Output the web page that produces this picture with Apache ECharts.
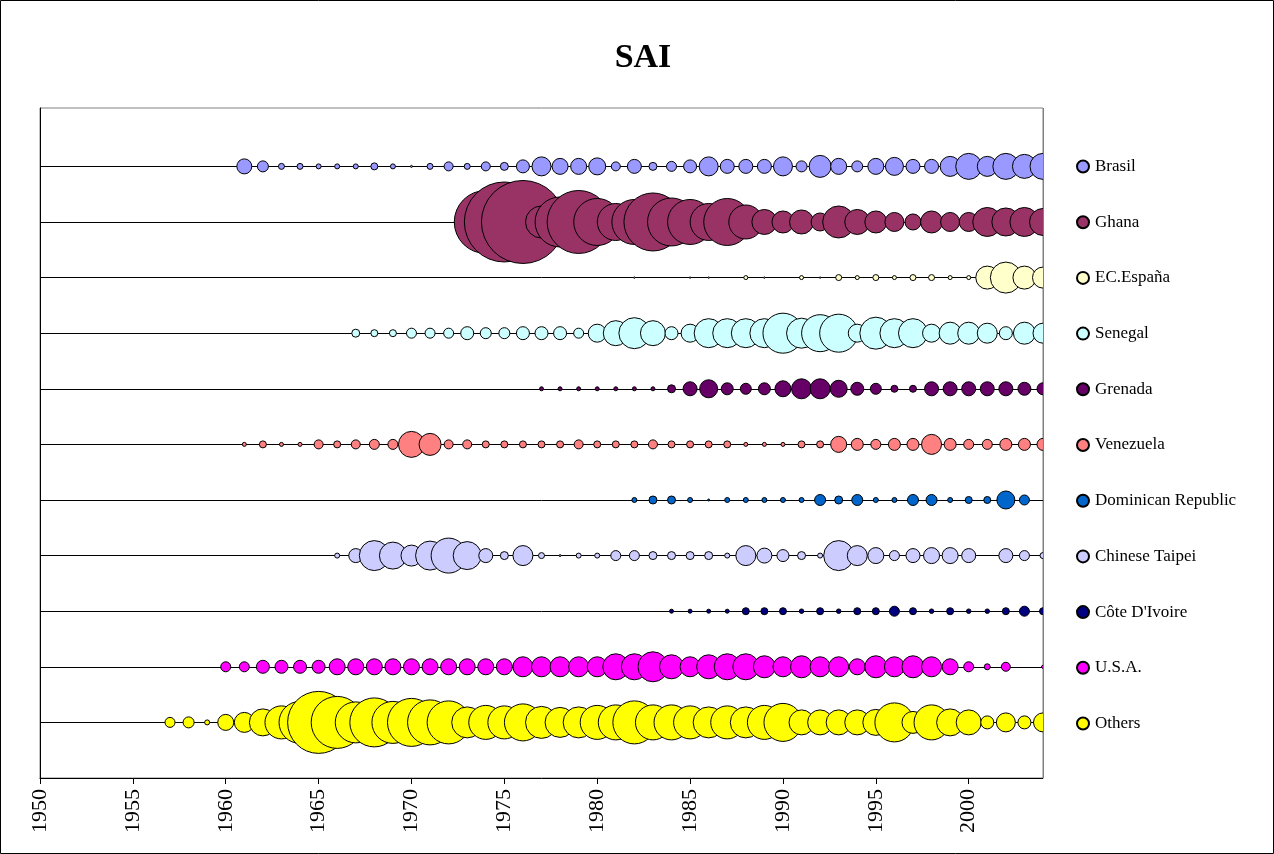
<!DOCTYPE html>
<html>
<head>
<meta charset="utf-8">
<script src="https://cdn.jsdelivr.net/npm/echarts@6/dist/echarts.min.js"></script>
<style>
html,body{margin:0;padding:0;background:#fff;}
#chart{width:1274px;height:854px;}
</style>
</head>
<body>
<div id="chart"></div>
<script>
// Relative catch magnitude per year (bubble value)
const BRASIL = [[1961,15],[1962,11],[1963,6],[1964,6],[1965,5],[1966,5],[1967,5],[1968,7],[1969,5],[1970,2],[1971,6],[1972,9],[1973,6],[1974,9],[1975,8],[1976,13],[1977,19],[1978,16],[1979,16],[1980,17],[1981,9],[1982,14],[1983,8],[1984,10],[1985,13],[1986,19],[1987,14],[1988,14],[1989,14],[1990,19],[1991,11],[1992,22],[1993,16],[1994,11],[1995,16],[1996,18],[1997,14],[1998,14],[1999,20],[2000,26],[2001,20],[2002,26],[2003,24],[2004,26]];
const GHANA = [[1974,63],[1975,80],[1976,83],[1977,32],[1978,50],[1979,63],[1980,47],[1981,37],[1982,45],[1983,58],[1984,48],[1985,45],[1986,37],[1987,47],[1988,34],[1989,25],[1990,22],[1991,24],[1992,18],[1993,32],[1994,25],[1995,22],[1996,19],[1997,16],[1998,22],[1999,19],[2000,19],[2001,29],[2002,28],[2003,29],[2004,27]];
const ESPANA = [[1982,1.5],[1985,1.5],[1986,1.5],[1988,4],[1989,1.5],[1991,4],[1992,1.5],[1993,6],[1994,4],[1995,6],[1996,4],[1997,6],[1998,6],[1999,4],[2000,4],[2001,23],[2002,31],[2003,23],[2004,21]];
const SENEGAL = [[1967,8],[1968,7],[1969,7],[1970,10],[1971,10],[1972,10],[1973,13],[1974,11],[1975,11],[1976,13],[1977,13],[1978,13],[1979,10],[1980,18],[1981,25],[1982,31],[1983,25],[1984,13],[1985,18],[1986,29],[1987,29],[1988,29],[1989,29],[1990,40],[1991,30],[1992,37],[1993,38],[1994,18],[1995,32],[1996,29],[1997,29],[1998,18],[1999,22],[2000,22],[2001,20],[2002,13],[2003,22],[2004,20]];
const GRENADA = [[1977,4],[1978,4],[1979,4],[1980,4],[1981,4],[1982,4],[1983,4],[1984,8],[1985,14],[1986,18],[1987,12],[1988,11],[1989,12],[1990,16],[1991,20],[1992,20],[1993,17],[1994,13],[1995,11],[1996,7],[1997,7],[1998,14],[1999,14],[2000,14],[2001,14],[2002,14],[2003,13],[2004,12]];
const VENEZUELA = [[1961,4],[1962,7],[1963,4],[1964,4],[1965,9],[1966,7],[1967,9],[1968,10],[1969,10],[1970,26],[1971,22],[1972,9],[1973,9],[1974,7],[1975,7],[1976,7],[1977,7],[1978,7],[1979,9],[1980,7],[1981,7],[1982,7],[1983,9],[1984,7],[1985,7],[1986,7],[1987,7],[1988,4],[1989,4],[1990,4],[1991,7],[1992,7],[1993,16],[1994,12],[1995,10],[1996,12],[1997,12],[1998,20],[1999,12],[2000,10],[2001,10],[2002,12],[2003,12],[2004,12]];
const DOMINICAN = [[1982,5],[1983,8],[1984,8],[1985,5],[1986,2],[1987,5],[1988,5],[1989,5],[1990,5],[1991,5],[1992,11],[1993,8],[1994,11],[1995,5],[1996,5],[1997,11],[1998,11],[1999,5],[2000,7],[2001,7],[2002,18],[2003,10]];
const TAIPEI = [[1966,5],[1967,14],[1968,30],[1969,27],[1970,21],[1971,29],[1972,35],[1973,28],[1974,14],[1975,8],[1976,20],[1977,6],[1978,2],[1979,5],[1980,5],[1981,10],[1982,10],[1983,8],[1984,8],[1985,8],[1986,8],[1987,5],[1988,20],[1989,15],[1990,12],[1991,8],[1992,5],[1993,30],[1994,20],[1995,16],[1996,10],[1997,14],[1998,16],[1999,16],[2000,14],[2002,14],[2003,10],[2004,6]];
const COTE = [[1984,4],[1985,4],[1986,4],[1987,4],[1988,7],[1989,7],[1990,7],[1991,4.5],[1992,7],[1993,4.5],[1994,7],[1995,7],[1996,10],[1997,7],[1998,4.5],[1999,7],[2000,4.5],[2001,4.5],[2002,7],[2003,10],[2004,7]];
const USA = [[1960,10],[1961,10],[1962,13],[1963,13],[1964,13],[1965,13],[1966,16],[1967,16],[1968,16],[1969,16],[1970,16],[1971,16],[1972,16],[1973,16],[1974,16],[1975,16],[1976,20],[1977,20],[1978,20],[1979,20],[1980,20],[1981,26],[1982,26],[1983,30],[1984,24],[1985,20],[1986,24],[1987,26],[1988,26],[1989,22],[1990,20],[1991,22],[1992,20],[1993,20],[1994,16],[1995,22],[1996,20],[1997,22],[1998,20],[1999,16],[2000,10],[2001,6],[2002,9],[2004,3]];
const OTHERS = [[1957,10],[1958,11],[1959,5],[1960,16],[1961,20],[1962,27],[1963,33],[1964,42],[1965,62],[1966,52],[1967,41],[1968,49],[1969,42],[1970,48],[1971,45],[1972,43],[1973,31],[1974,34],[1975,33],[1976,37],[1977,32],[1978,30],[1979,31],[1980,34],[1981,35],[1982,43],[1983,35],[1984,35],[1985,33],[1986,31],[1987,33],[1988,31],[1989,34],[1990,38],[1991,25],[1992,25],[1993,25],[1994,25],[1995,26],[1996,39],[1997,22],[1998,35],[1999,27],[2000,25],[2001,13],[2002,19],[2003,13],[2004,19]];

const SERIES_NAMES = ['Brasil','Ghana','EC.España','Senegal','Grenada','Venezuela','Dominican Republic','Chinese Taipei',"Côte D'Ivoire",'U.S.A.','Others'];
const SERIES_DATA = [BRASIL,GHANA,ESPANA,SENEGAL,GRENADA,VENEZUELA,DOMINICAN,TAIPEI,COTE,USA,OTHERS];
const COLORS = ['#9999FF','#993366','#FFFFCC','#CCFFFF','#660066','#FF8080','#0066CC','#CCCCFF','#000080','#FF00FF','#FFFF00'];
const X_MIN = 1950, X_MAX = 2004, X_STEP = 5;

const FONT = '"Liberation Serif", "DejaVu Serif", serif';
const SIZE_SCALE = 1;
const nRows = SERIES_NAMES.length;

const GRID = {left: 40, top: 108, width: 1003, height: 670};

const chart = echarts.init(document.getElementById('chart'), null, {renderer:'canvas'});

const series = SERIES_NAMES.map((name, i) => {
  const row = nRows - i;
  return {
    type: 'scatter',
    name: name,
    data: SERIES_DATA[i].map(p => [p[0], row, p[1]]),
    symbol: 'circle',
    symbolSize: d => d[2] * SIZE_SCALE,
    itemStyle: {color: COLORS[i], borderColor: '#000', borderWidth: 1, opacity: 1},
    emphasis: {disabled: true},
    z: 2,
    animation: false,
    markLine: {
      silent: true,
      symbol: 'none',
      z: 1,
      animation: false,
      label: {show: false},
      lineStyle: {color: '#000', width: 1, type: 'solid'},
      emphasis: {disabled: true},
      data: [{yAxis: row}]
    }
  };
});

const rightEdge = GRID.left + GRID.width;

chart.setOption({
  backgroundColor: '#fff',
  animation: false,
  title: {
    text: 'SAI',
    left: 638,
    top: 36,
    textAlign: 'center',
    textStyle: {fontFamily: FONT, fontSize: 34, fontWeight: 'bold', color: '#000'}
  },
  graphic: [
    { // mask bubbles spilling past the plot's right edge
      type: 'rect', z: 50, silent: true,
      shape: {x: rightEdge + 0.5, y: GRID.top - 40, width: 28, height: GRID.height + 60},
      style: {fill: '#fff', stroke: null}
    },
    {
      type: 'line', z: 51, silent: true,
      shape: {x1: rightEdge + 0.5, y1: GRID.top, x2: rightEdge + 0.5, y2: GRID.top + GRID.height},
      style: {stroke: '#808080', lineWidth: 1}
    },
    {
      type: 'rect', z: 52, silent: true,
      shape: {x: 0.5, y: 0.5, width: 1273, height: 853},
      style: {fill: 'none', stroke: '#000', lineWidth: 1}
    }
  ],
  legend: {
    data: SERIES_NAMES,
    orient: 'vertical',
    left: 1071,
    top: 153,
    icon: 'circle',
    itemWidth: 12,
    itemHeight: 12,
    itemGap: 38.7,
    selectedMode: false,
    textStyle: {fontFamily: FONT, fontSize: 17, color: '#000', padding: [0,0,0,1]}
  },
  grid: Object.assign({show: true, borderColor: '#808080', borderWidth: 1}, GRID),
  xAxis: {
    type: 'value',
    min: X_MIN, max: X_MAX, interval: X_STEP,
    axisLine: {show: true, onZero: false, lineStyle: {color: '#000', width: 1}},
    axisTick: {show: true, length: 6, lineStyle: {color: '#000'}},
    axisLabel: {
      rotate: 90, fontFamily: FONT, fontSize: 22, color: '#000', margin: 11,
      showMaxLabel: false,
      formatter: v => (v % X_STEP === 0 ? String(v) : '')
    },
    splitLine: {show: false}
  },
  yAxis: {
    type: 'value',
    min: 0, max: 12.05,
    axisLine: {show: true, lineStyle: {color: '#000', width: 1}},
    axisTick: {show: false},
    axisLabel: {show: false},
    splitLine: {show: false}
  },
  series: series
});
</script>
</body>
</html>
